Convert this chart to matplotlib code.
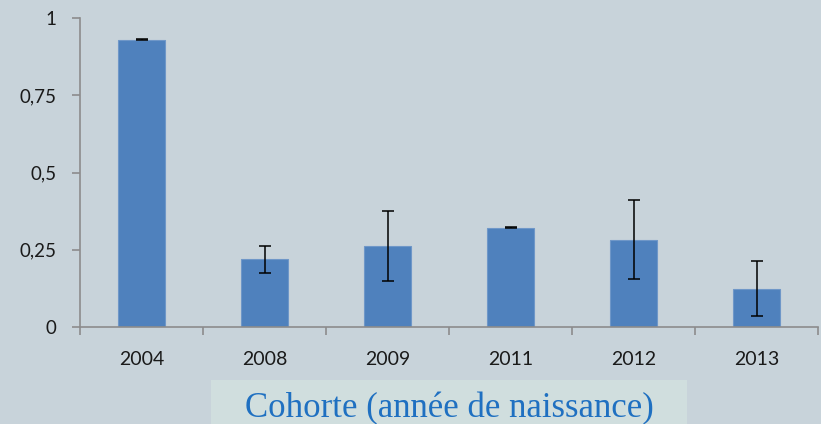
import matplotlib
matplotlib.use("Agg")
import matplotlib.pyplot as plt
from matplotlib.patches import Rectangle

categories = ["2004", "2008", "2009", "2011", "2012", "2013"]
values = [0.930, 0.219, 0.262, 0.322, 0.283, 0.123]
errors = [0.002, 0.043, 0.113, 0.002, 0.128, 0.089]
yticks = [0, 0.25, 0.5, 0.75, 1]
ytick_labels = ["0", "0,25", "0,5", "0,75", "1"]
xlabel = "Cohorte (année de naissance)"

bg = "#c8d3da"
fig = plt.figure(figsize=(8.21, 4.24), dpi=100, facecolor=bg)
ax = fig.add_axes([80/821, 1-327/424, 738/821, 309/424])
ax.set_facecolor(bg)

x = list(range(len(categories)))
ax.bar(x, values, width=0.39, color="#4f81bd", edgecolor="#6f97c8", linewidth=0.8, zorder=2)
ax.errorbar(x, values, yerr=errors, fmt="none", ecolor="black", elinewidth=1.1,
            capsize=4, capthick=1.1, zorder=3)

ax.set_xlim(-0.5, len(categories) - 0.5)
ax.set_ylim(0, 1)
ax.set_yticks(yticks)
ax.set_yticklabels(ytick_labels)
ax.set_xticks(x)
ax.set_xticklabels(categories)
ax.set_xticks([i + 0.5 for i in range(-1, len(categories))], minor=True)
ax.tick_params(axis="x", which="major", length=0, pad=17, labelsize=14)
ax.tick_params(axis="x", which="minor", length=6, color="#8c8c8c", width=1.2)
ax.tick_params(axis="y", length=6, color="#8c8c8c", width=1.2, pad=11, labelsize=13.5)
for lab in ax.get_xticklabels() + ax.get_yticklabels():
    lab.set_fontfamily("Lato")
    lab.set_color("#1a1a1a")

for s in ["top", "right"]:
    ax.spines[s].set_visible(False)
for s in ["left", "bottom"]:
    ax.spines[s].set_color("#8c8c8c")
    ax.spines[s].set_linewidth(1.2)

fig.patches.append(Rectangle((211/821, 0), (687-211)/821, 44/424, transform=fig.transFigure,
                             facecolor="#d0dede", edgecolor="none", zorder=0))
fig.text((211+687)/2/821, 1-409/424, xlabel, ha="center", va="center",
         fontsize=25, family="Liberation Serif", color="#1f70c1")

fig.savefig("out.png", dpi=100, facecolor=bg)
